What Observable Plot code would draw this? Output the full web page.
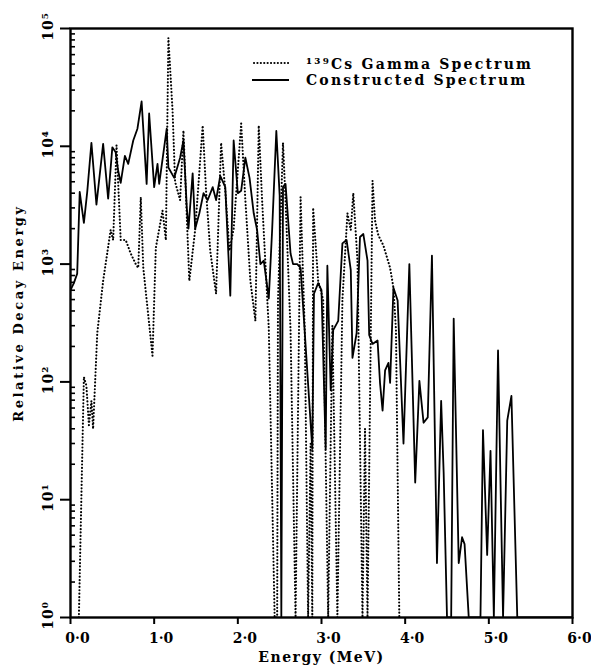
<!DOCTYPE html>
<html>
<head>
<meta charset="utf-8">
<script src="https://cdn.jsdelivr.net/npm/d3@7"></script>
<script src="https://cdn.jsdelivr.net/npm/@observablehq/plot@0.6"></script>
<style>
  html, body { margin: 0; padding: 0; background: #fff; }
  #chart { width: 591px; height: 671px; }
</style>
</head>
<body>
<div id="chart"></div>
<script>
// ---- Data ----
// Constructed Spectrum (solid line): energy in MeV, relative decay energy
const solidEnergy = [0.00,0.04,0.08,0.11,0.16,0.20,0.25,0.31,0.39,0.45,0.50,0.54,0.57,0.60,0.65,0.69,0.75,0.80,0.85,0.91,0.94,1.00,1.04,1.06,1.15,1.17,1.24,1.31,1.35,1.39,1.41,1.46,1.49,1.54,1.59,1.64,1.70,1.74,1.79,1.85,1.91,1.95,2.00,2.04,2.09,2.14,2.19,2.23,2.27,2.31,2.37,2.41,2.46,2.50,2.52,2.54,2.57,2.63,2.66,2.71,2.75,2.89,2.91,2.96,3.00,3.05,3.07,3.11,3.14,3.20,3.25,3.30,3.35,3.37,3.42,3.46,3.50,3.55,3.57,3.61,3.67,3.70,3.73,3.76,3.80,3.82,3.86,3.91,3.98,4.05,4.12,4.17,4.22,4.27,4.32,4.38,4.43,4.46,4.50,4.55,4.58,4.64,4.68,4.71,4.76,4.90,4.93,4.98,5.02,5.06,5.11,5.17,5.22,5.27,5.34,6.00];
const solidValue  = [600,690,830,4100,2240,4100,10700,3200,10500,3600,9800,8900,6200,4900,8300,7100,11200,14100,24000,4800,19000,4500,7100,4800,14100,6600,5400,8000,11200,3000,2000,5900,2000,2700,4000,3500,4500,3500,5600,4500,540,11200,4000,4200,8000,5400,2700,1950,1000,1070,510,1950,13500,3800,1,4500,4800,1230,1000,1000,930,27,560,690,600,27,970,85,275,330,1500,1600,890,160,260,1700,1800,1070,250,210,225,97,57,125,145,98,630,490,30,1000,14,102,45,50,1180,2.9,69,17,1,1,345,2.9,4.8,4.2,1,1,39,3.4,26,1,185,1,47,76,1,1];

// 139Cs Gamma Spectrum (dotted line)
const gammaEnergy = [0.10,0.16,0.19,0.22,0.25,0.27,0.32,0.39,0.48,0.51,0.55,0.60,0.66,0.72,0.78,0.81,0.84,0.87,0.98,1.02,1.10,1.14,1.17,1.22,1.25,1.31,1.35,1.42,1.49,1.58,1.62,1.67,1.74,1.80,1.85,1.90,1.95,2.04,2.09,2.15,2.21,2.25,2.29,2.37,2.44,2.47,2.48,2.54,2.57,2.63,2.69,2.75,2.80,2.84,2.87,2.89,2.90,2.96,3.02,3.08,3.13,3.19,3.25,3.31,3.35,3.38,3.43,3.49,3.52,3.55,3.61,3.64,3.68,3.74,3.82,3.86,3.89,3.93];
const gammaValue  = [1,110,93,43,69,40,260,720,1950,1600,10200,1600,1600,1230,1000,930,3700,930,167,1380,2850,1600,83000,20000,5000,3500,13600,720,1950,15000,4200,1300,560,10700,4200,1300,2000,15600,3500,720,330,15000,3500,285,1,1,500,10700,3500,275,1,3700,275,1,30,1,3000,720,500,1,300,1,500,2700,1950,4000,1070,1,40,1,5100,2340,1750,1440,930,630,275,1];

// Axis ticks and labels
const xTicks = [0, 1, 2, 3, 4, 5, 6];
const xTickLabels = ["0·0", "1·0", "2·0", "3·0", "4·0", "5·0", "6·0"];
const yTicks = [1, 10, 100, 1000, 10000, 100000];
const yTickLabels = ["10⁰", "10¹", "10²", "10³", "10⁴", "10⁵"];
const minorMultipliers = [2, 3, 4, 5, 6, 7, 8, 9];
const xTitle = "Energy (MeV)";
const yTitle = "Relative Decay Energy";
const legendLabels = ["¹³⁹Cs Gamma Spectrum", "Constructed Spectrum"];

// ---- Build tables ----
const solid = solidEnergy.map((e, i) => ({e, v: solidValue[i]}));
const gamma = gammaEnergy.map((e, i) => ({e, v: gammaValue[i]}));
const yMinor = yTicks.slice(0, -1).flatMap(t => minorMultipliers.map(m => m * t));

const FONT = "'DejaVu Serif', serif";

const svg = Plot.plot({
  width: 591,
  height: 671,
  marginLeft: 70,
  marginRight: 19,
  marginTop: 28,
  marginBottom: 54,
  x: {domain: [0, 6]},
  y: {type: "log", domain: [1, 1e5]},
  style: {fontFamily: FONT, fontWeight: "bold", background: "white", color: "black"},
  marks: [
    Plot.line(gamma, {x: "e", y: "v", stroke: "black", strokeWidth: 2.1, strokeDasharray: "0.1 3.3", strokeLinecap: "round", clip: true}),
    Plot.line(solid, {x: "e", y: "v", stroke: "black", strokeWidth: 1.8, clip: true}),
    Plot.frame({stroke: "black", strokeWidth: 2.4}),
    // x ticks (outward) and labels
    Plot.axisX({ticks: xTicks, tickSize: 7, strokeWidth: 2, tickFormat: () => "", label: null}),
    Plot.axisX({ticks: xTicks, tickSize: 0, tickPadding: 16, dx: 7, fontSize: 14, tickFormat: d => xTickLabels[xTicks.indexOf(d)], label: null}),
    // y major ticks (outward)
    Plot.axisY({ticks: yTicks, tickSize: 10, strokeWidth: 2, tickFormat: () => "", label: null}),
    // y minor ticks (inward)
    Plot.axisY({ticks: yMinor, tickSize: 5, dx: 5, strokeWidth: 1.6, tickFormat: () => "", label: null}),
    // rotated decade labels
    Plot.text(yTicks, {y: d => d, text: d => yTickLabels[yTicks.indexOf(d)], frameAnchor: "left", rotate: -90, dx: -22, dy: -2, fontSize: 14, fontWeight: "bold", textAnchor: "middle", lineAnchor: "middle"}),
    // axis titles
    Plot.text([xTitle], {frameAnchor: "bottom", dy: 44, fontSize: 14, fontWeight: "bold", textAnchor: "middle"}),
    Plot.text([yTitle], {frameAnchor: "left", rotate: -90, dx: -52, dy: -10, fontSize: 13, fontWeight: "bold", textAnchor: "middle", lineAnchor: "middle"})
  ]
});

// letter spacing for the wide lettering of the original
d3.select(svg).selectAll("text").each(function() {
  const t = this.textContent;
  if (t === xTitle) this.setAttribute("letter-spacing", "1.5");
  else if (t === yTitle) this.setAttribute("letter-spacing", "2.6");
  else if (yTickLabels.includes(t)) this.setAttribute("letter-spacing", "1");
});

// ---- Legend (inside the frame, top right) ----
const lg = d3.select(svg).append("g").attr("class", "legend").attr("text-anchor", "start");
lg.append("line").attr("x1", 254).attr("x2", 289).attr("y1", 63).attr("y2", 63)
  .attr("stroke", "black").attr("stroke-width", 2.1).attr("stroke-dasharray", "0.1 3.3").attr("stroke-linecap", "round");
lg.append("line").attr("x1", 252).attr("x2", 289).attr("y1", 80).attr("y2", 80)
  .attr("stroke", "black").attr("stroke-width", 1.8);
lg.selectAll("text").data(legendLabels).join("text")
  .attr("x", 306).attr("y", (d, i) => 69 + i * 16)
  .attr("text-anchor", "start")
  .attr("font-family", FONT).attr("font-weight", "bold").attr("font-size", 14)
  .attr("letter-spacing", 2.2).attr("fill", "black")
  .text(d => d);

document.getElementById("chart").appendChild(svg);
</script>
</body>
</html>
